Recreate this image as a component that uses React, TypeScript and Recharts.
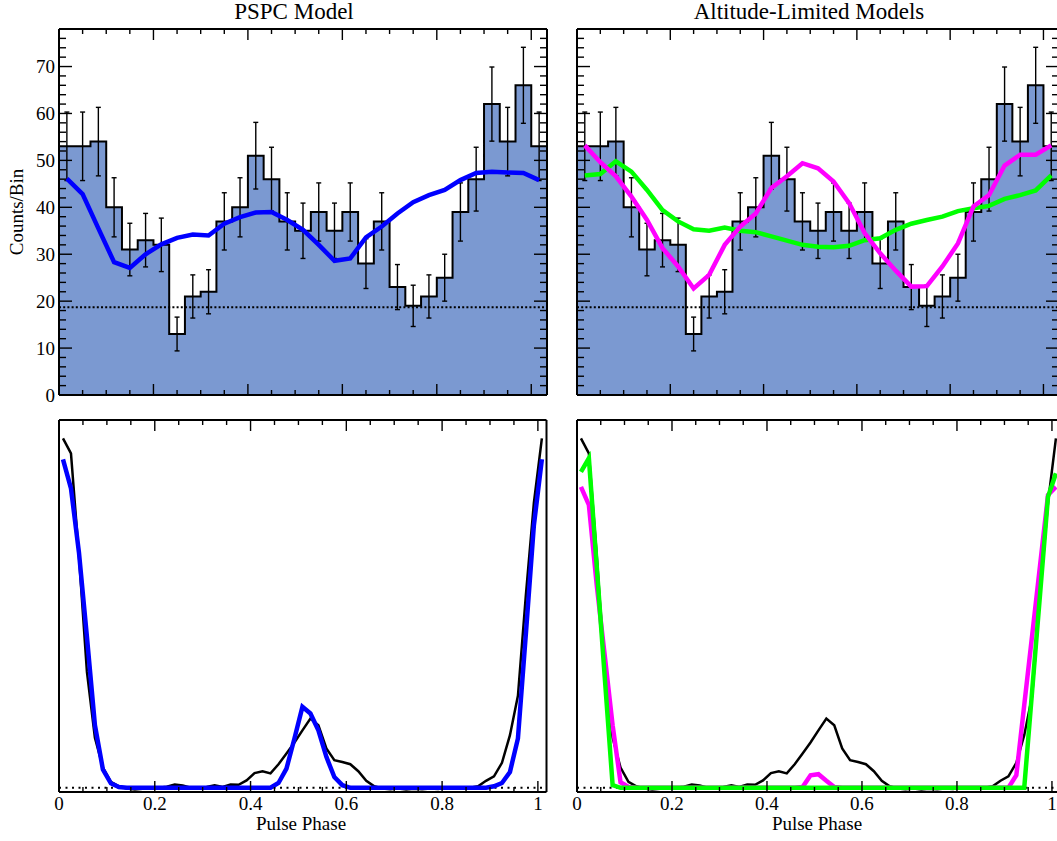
import React from "react";
import { ComposedChart, Area, Line, XAxis, YAxis, ReferenceLine, ErrorBar } from "recharts";

// ---- top panels: counts per phase bin (30 bins, first bin repeated after phase 1)
const counts = [53, 53, 54, 40, 31, 33, 32, 13, 21, 22, 37, 40, 51, 46, 37, 35, 39, 35, 39, 28, 37, 23, 19, 21, 25, 39, 46, 62, 54, 66, 53];
const countErrors = [7.3, 7.3, 7.3, 6.3, 5.6, 5.7, 5.7, 3.6, 4.6, 4.7, 6.1, 6.3, 7.1, 6.8, 6.1, 5.9, 6.2, 5.9, 6.2, 5.3, 6.1, 4.8, 4.4, 4.6, 5.0, 6.2, 6.8, 7.9, 7.3, 8.1, 7.3];
const pspcModel = [46.1, 42.8, 35.5, 28.3, 27.1, 30.0, 32.1, 33.5, 34.2, 34.0, 36.5, 37.9, 38.9, 39.0, 37.3, 35.2, 32.0, 28.6, 29.1, 33.6, 35.9, 38.7, 41.1, 42.6, 43.7, 45.8, 47.3, 47.6, 47.4, 47.3, 45.8];
const altModelMagenta = [53.2, 49.6, 46.6, 42.3, 37.3, 31.3, 27.4, 22.7, 25.6, 32.0, 35.9, 38.7, 44.1, 46.6, 49.4, 48.3, 45.5, 40.9, 34.5, 30.2, 26.5, 23.1, 23.2, 27.4, 32.3, 40.2, 42.6, 48.9, 51.2, 51.2, 53.2];
const altModelGreen = [46.8, 47.1, 49.8, 47.6, 43.7, 39.4, 37.0, 35.3, 35.0, 35.7, 35.0, 34.7, 33.8, 32.9, 32.0, 31.6, 31.5, 31.8, 33.0, 33.4, 35.2, 36.5, 37.3, 38.0, 39.2, 39.8, 40.3, 41.8, 42.6, 43.6, 46.8];
const backgroundLevel = 18.7;

// ---- bottom panels: beam profiles (60 bins, first bin repeated), arbitrary units
const beamObserved = [
  95.0, 90.9, 63.0, 31.5, 13.6, 5.5, 1.6, 0.4, -0.2, -0.5,
  -0.3, -0.2, 0.0, 0.3, 0.9, 0.6, 0.0, -0.2, 0.2, 0.7,
  0.2, 0.9, 0.8, 2.0, 4.0, 4.5, 3.9, 6.4, 9.3, 12.3,
  15.6, 18.8, 17.0, 10.7, 7.5, 7.0, 6.4, 4.5, 1.9, 0.4,
  -0.2, -0.4, -0.2, -0.5, -0.3, -0.4, -0.2, -0.3, 0.0, -0.2,
  0.0, 0.0, 0.4, 1.9, 3.1, 6.8, 14.3, 25.0, 52.5, 77.5,
  95.0,
];
const beamPspc = [
  89.3, 81.4, 64.0, 41.0, 17.0, 5.0, 1.2, 0.2, 0, 0,
  0, 0, 0, 0, 0, 0, 0, 0, 0, 0,
  0, 0, 0, 0, 0, 0, 0, 1.3, 5.2, 13.4,
  22.0, 20.2, 15.6, 8.4, 2.9, 0.7, 0, 0, 0, 0,
  0, 0, 0, 0, 0, 0, 0, 0, 0, 0,
  0, 0, 0, 0, 0.4, 1.3, 4.3, 13.4, 42.0, 71.4,
  89.3,
];
const beamMagenta = [
  81.8, 76.9, 55.0, 36.0, 17.0, 1.5, 0.2, 0, 0, 0,
  0, 0, 0, 0, 0, 0, 0, 0, 0, 0,
  0, 0, 0, 0, 0, 0, 0, 0, 0.2, 3.4,
  3.7, 1.9, 0.2, 0, 0, 0, 0, 0, 0, 0,
  0, 0, 0, 0, 0, 0, 0, 0, 0, 0,
  0, 0, 0, 0, 0, 3.4, 22.5, 41.5, 60.5, 79.6,
  81.8,
];
const beamGreen = [
  85.9, 89.6, 60.0, 30.2, 0.7, 0, 0, 0, 0, 0,
  0, 0, 0, 0, 0, 0, 0, 0, 0, 0,
  0, 0, 0, 0, 0, 0, 0, 0, 0, 0,
  0, 0, 0, 0, 0, 0, 0, 0, 0, 0,
  0, 0, 0, 0, 0, 0, 0, 0, 0, 0,
  0, 0, 0, 0, 0, 0, 0, 26.4, 52.7, 79.1,
  85.5,
];

// ---- ticks
const xMajor = [0, 0.2, 0.4, 0.6, 0.8, 1];
const xMajorLabels = ["0", "0.2", "0.4", "0.6", "0.8", "1"];
const xTicks = [0, 0.05, 0.1, 0.15, 0.2, 0.25, 0.3, 0.35, 0.4, 0.45, 0.5, 0.55, 0.6, 0.65, 0.7, 0.75, 0.8, 0.85, 0.9, 0.95, 1];
const yMajor = [0, 10, 20, 30, 40, 50, 60, 70];
const yMajorLabels = ["0", "10", "20", "30", "40", "50", "60", "70"];
const yTicks = [0, 2, 4, 6, 8, 10, 12, 14, 16, 18, 20, 22, 24, 26, 28, 30, 32, 34, 36, 38, 40, 42, 44, 46, 48, 50, 52, 54, 56, 58, 60, 62, 64, 66, 68, 70, 72, 74, 76];

const FONT = "'Liberation Serif', 'Times New Roman', Times, serif";
const FILL = "#7b99d1";
const TOP_BIN = 1 / 30;
const BOT_BIN = 1 / 60;

const histData = [
  ...counts.map((c, i) => ({ x: i * TOP_BIN, y: c })),
  { x: counts.length * TOP_BIN, y: counts[counts.length - 1] },
];
const errData = counts.map((c, i) => ({ x: (i + 0.5) * TOP_BIN, y: c, err: countErrors[i] }));
const atTopCenters = (vals: number[]) => vals.map((v, i) => ({ x: (i + 0.5) * TOP_BIN, y: v }));
const atBotCenters = (vals: number[]) => vals.map((v, i) => ({ x: (i + 0.5) * BOT_BIN, y: v }));

type Side = "top" | "bottom" | "left" | "right";
const tickText = { fontFamily: FONT, fontSize: 19, fill: "#000" };

function tickRenderer(side: Side, majors: number[], labels: string[] | null, majorLen: number, minorLen: number) {
  return (props: any) => {
    const x = Number(props.x);
    const y = Number(props.y);
    const v = props.payload ? props.payload.value : 0;
    const k = majors.findIndex((m) => Math.abs(m - v) < 1e-6);
    const len = k >= 0 ? majorLen : minorLen;
    let d = "";
    let label: React.ReactNode = null;
    if (side === "bottom") {
      d = `M${x},${y}V${y - len}`;
      if (labels && k >= 0)
        label = (
          <text x={x} y={y + 18} textAnchor="middle" {...tickText}>
            {labels[k]}
          </text>
        );
    } else if (side === "top") {
      d = `M${x},${y}V${y + len}`;
    } else if (side === "left") {
      d = `M${x},${y}H${x + len}`;
      if (labels && k >= 0)
        label = (
          <text x={x - 4} y={y + 6.5} textAnchor="end" {...tickText}>
            {labels[k]}
          </text>
        );
    } else {
      d = `M${x},${y}H${x - len}`;
    }
    return (
      <g>
        <path d={d} stroke="#000" strokeWidth={1.4} fill="none" />
        {label}
      </g>
    );
  };
}

// axes are 1px thick so that their inner edge is the plot frame
const M = { top: 39, right: 19, bottom: 44, left: 59 };
const frame = { stroke: "#000", strokeWidth: 2 };

type PanelProps = {
  left: number;
  top: number;
  width: number;
  height: number;
  xMax: number;
  yDomain: [number, number];
  yAxisTicks: boolean;
  yLabels: boolean;
  xLabels: boolean;
  children: React.ReactNode;
};

function Panel(p: PanelProps) {
  const common = {
    type: "number" as const,
    tickSize: 0,
    tickMargin: 0,
    tickLine: false,
    interval: 0 as const,
    axisLine: frame,
    allowDataOverflow: true,
  };
  return (
    <div style={{ position: "absolute", left: p.left - M.left - 1, top: p.top - M.top - 1 }}>
      <ComposedChart width={p.width + M.left + M.right + 2} height={p.height + M.top + M.bottom + 2} margin={M}>
        <XAxis
          xAxisId="b"
          orientation="bottom"
          dataKey="x"
          domain={[0, p.xMax]}
          ticks={xTicks}
          height={1}
          tick={tickRenderer("bottom", xMajor, p.xLabels ? xMajorLabels : null, 11, 5)}
          {...common}
        />
        <XAxis
          xAxisId="t"
          orientation="top"
          dataKey="x"
          domain={[0, p.xMax]}
          ticks={xTicks}
          height={1}
          tick={tickRenderer("top", xMajor, null, 11, 5)}
          {...common}
        />
        <YAxis
          yAxisId="l"
          orientation="left"
          domain={p.yDomain}
          ticks={p.yAxisTicks ? yTicks : undefined}
          width={1}
          tick={p.yAxisTicks ? tickRenderer("left", yMajor, p.yLabels ? yMajorLabels : null, 13, 7) : false}
          {...common}
        />
        <YAxis
          yAxisId="r"
          orientation="right"
          domain={p.yDomain}
          ticks={p.yAxisTicks ? yTicks : undefined}
          width={1}
          tick={p.yAxisTicks ? tickRenderer("right", yMajor, null, 13, 7) : false}
          {...common}
        />
        {p.children}
      </ComposedChart>
    </div>
  );
}

function histogramLayers() {
  return [
    <Area
      key="hist"
      xAxisId="b"
      yAxisId="l"
      data={histData}
      dataKey="y"
      type="stepAfter"
      fill={FILL}
      fillOpacity={1}
      stroke="#000"
      strokeWidth={2}
      isAnimationActive={false}
    />,
    <ReferenceLine
      key="bg"
      xAxisId="b"
      yAxisId="l"
      y={backgroundLevel}
      stroke="#000"
      strokeWidth={2}
      strokeDasharray="2 2.2"
    />,
    <Line
      key="err"
      xAxisId="b"
      yAxisId="l"
      data={errData}
      dataKey="y"
      stroke="none"
      dot={false}
      isAnimationActive={false}
    >
      <ErrorBar dataKey="err" width={2.5} stroke="#000" strokeWidth={1.4} direction="y" />
    </Line>,
  ];
}

function modelLine(key: string, data: { x: number; y: number }[], color: string, width = 4.5) {
  return (
    <Line
      key={key}
      xAxisId="b"
      yAxisId="l"
      data={data}
      dataKey="y"
      type="linear"
      stroke={color}
      strokeWidth={width}
      dot={false}
      isAnimationActive={false}
    />
  );
}

function beamBase() {
  return [
    <ReferenceLine
      key="zero"
      xAxisId="b"
      yAxisId="l"
      y={0}
      stroke="#000"
      strokeWidth={2}
      strokeDasharray="2 4.5"
    />,
    modelLine("obs", atBotCenters(beamObserved), "#000", 2.5),
  ];
}

const labelText = { fontFamily: FONT, fontSize: 19, fill: "#000" };
const titleText = { fontFamily: FONT, fontSize: 23, fill: "#000" };

export default function App() {
  return (
    <div
      style={{
        position: "fixed",
        left: 0,
        top: 0,
        width: 1057,
        height: 841,
        overflow: "hidden",
        background: "#fff",
      }}
    >
      <Panel left={58.5} top={29} width={488} height={366} xMax={31 / 30} yDomain={[0, 78]} yAxisTicks yLabels xLabels={false}>
        {histogramLayers()}
        {modelLine("pspc", atTopCenters(pspcModel), "#0000ff")}
      </Panel>

      <Panel left={577} top={29} width={482} height={366} xMax={31 / 30} yDomain={[0, 78]} yAxisTicks yLabels={false} xLabels={false}>
        {histogramLayers()}
        {modelLine("green", atTopCenters(altModelGreen), "#00ff00")}
        {modelLine("magenta", atTopCenters(altModelMagenta), "#ff00ff")}
      </Panel>

      <Panel left={58.5} top={420} width={487.5} height={372} xMax={1.018} yDomain={[-1.15, 100]} yAxisTicks={false} yLabels={false} xLabels>
        {beamBase()}
        {modelLine("pspcBeam", atBotCenters(beamPspc), "#0000ff")}
      </Panel>

      <Panel left={577} top={420} width={483.5} height={372} xMax={1.018} yDomain={[-1.15, 100]} yAxisTicks={false} yLabels={false} xLabels>
        {beamBase()}
        {modelLine("magentaBeam", atBotCenters(beamMagenta), "#ff00ff")}
        {modelLine("greenBeam", atBotCenters(beamGreen), "#00ff00")}
      </Panel>

      <svg width={1057} height={841} style={{ position: "absolute", left: 0, top: 0, pointerEvents: "none" }}>
        <text x={294} y={19} textAnchor="middle" {...titleText}>
          PSPC Model
        </text>
        <text x={809} y={19} textAnchor="middle" {...titleText}>
          Altitude-Limited Models
        </text>
        <text x={23} y={212} textAnchor="middle" transform="rotate(-90 23 212)" {...labelText}>
          Counts/Bin
        </text>
        <text x={301} y={830} textAnchor="middle" {...labelText}>
          Pulse Phase
        </text>
        <text x={817} y={830} textAnchor="middle" {...labelText}>
          Pulse Phase
        </text>
      </svg>
    </div>
  );
}
